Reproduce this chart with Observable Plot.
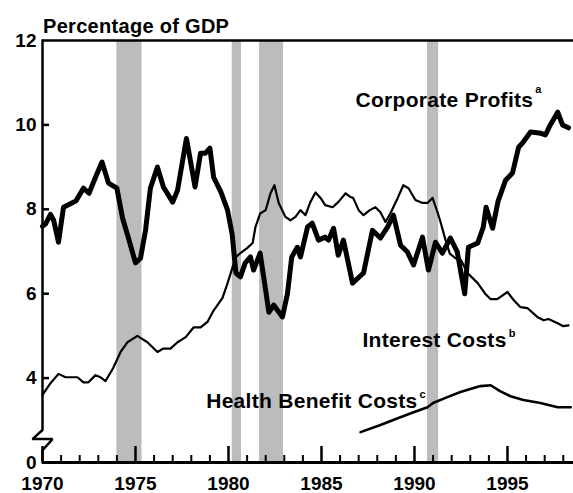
<!DOCTYPE html>
<html>
<head>
<meta charset="utf-8">
<script src="https://cdn.jsdelivr.net/npm/d3@7"></script>
<script src="https://cdn.jsdelivr.net/npm/@observablehq/plot@0.6"></script>
<style>
  body { margin: 0; background: #fff; }
  #wrap { position: relative; width: 573px; height: 493px; overflow: hidden; background: #fff; }
  #title { position: absolute; z-index: 2; left: 43px; top: 15px; line-height: 20px; font: bold 20px "Liberation Sans", Arial, sans-serif; color: #000; letter-spacing: 0.3px; }
  #chart { position: absolute; z-index: 1; left: 0; top: 30px; }
</style>
</head>
<body>
<div id="wrap">
  <div id="chart"></div>
  <div id="title">Percentage of GDP</div>
</div>
<script>
// ---- Data ----
const corpYears = [1970.0,1970.16,1970.43,1970.6,1970.86,1971.13,1971.5,1971.8,1972.2,1972.5,1972.85,1973.2,1973.55,1974.0,1974.3,1974.6,1975.0,1975.27,1975.54,1975.8,1976.18,1976.5,1977.0,1977.26,1977.74,1978.2,1978.5,1978.76,1979.0,1979.2,1979.6,1979.95,1980.2,1980.4,1980.64,1980.9,1981.18,1981.35,1981.7,1982.0,1982.17,1982.43,1982.9,1983.17,1983.4,1983.7,1983.87,1984.25,1984.5,1984.84,1985.2,1985.38,1985.65,1985.9,1986.18,1986.67,1987.26,1987.74,1988.17,1988.55,1988.87,1989.25,1989.62,1989.95,1990.43,1990.75,1991.13,1991.5,1991.93,1992.3,1992.7,1992.9,1993.4,1993.7,1993.85,1994.2,1994.5,1994.9,1995.27,1995.6,1995.86,1996.24,1996.8,1997.04,1997.3,1997.7,1997.96,1998.28];
const corpValues = [7.6,7.65,7.88,7.74,7.22,8.05,8.13,8.2,8.5,8.38,8.76,9.12,8.62,8.5,7.8,7.35,6.73,6.84,7.5,8.5,9.0,8.53,8.17,8.45,9.68,8.53,9.33,9.33,9.45,8.76,8.4,7.98,7.4,6.49,6.4,6.73,6.87,6.56,6.96,6.08,5.56,5.73,5.45,6.0,6.87,7.1,6.87,7.58,7.67,7.27,7.34,7.27,7.55,6.91,7.27,6.25,6.49,7.5,7.32,7.58,7.86,7.15,6.99,6.68,7.34,6.56,7.22,6.96,7.32,6.99,6.0,7.1,7.2,7.58,8.05,7.55,8.2,8.69,8.86,9.47,9.6,9.83,9.8,9.76,10.0,10.3,10.0,9.93];

const interestYears = [1970.0,1970.43,1970.86,1971.24,1971.88,1972.2,1972.47,1972.85,1973.12,1973.39,1973.8,1974.2,1974.57,1975.1,1975.64,1976.18,1976.5,1976.88,1977.26,1977.7,1978.12,1978.5,1978.87,1979.2,1979.68,1979.95,1980.2,1980.4,1980.64,1981.0,1981.3,1981.45,1981.7,1982.0,1982.26,1982.47,1982.7,1983.06,1983.33,1983.6,1983.87,1984.14,1984.4,1984.68,1984.95,1985.2,1985.6,1985.9,1986.3,1986.56,1986.7,1987.0,1987.26,1987.6,1987.9,1988.17,1988.44,1988.7,1989.1,1989.4,1989.68,1990.05,1990.43,1990.7,1990.97,1991.24,1991.4,1991.67,1991.9,1992.2,1992.5,1992.85,1993.4,1993.8,1994.1,1994.45,1995.0,1995.33,1995.7,1996.07,1996.6,1996.95,1997.2,1997.7,1998.0,1998.28];
const interestValues = [3.6,3.88,4.1,4.02,4.02,3.9,3.9,4.07,4.02,3.93,4.24,4.62,4.85,5.0,4.85,4.62,4.7,4.7,4.85,4.97,5.2,5.2,5.33,5.6,5.9,6.25,6.6,6.87,6.96,7.08,7.2,7.58,7.9,7.98,8.38,8.57,8.15,7.82,7.74,7.82,7.98,7.86,8.17,8.4,8.27,8.1,8.05,8.17,8.38,8.29,8.27,7.98,7.86,7.98,8.05,7.93,7.7,7.9,8.27,8.57,8.5,8.22,8.15,8.15,8.27,7.93,7.7,7.27,6.95,6.84,6.8,6.49,6.25,6.0,5.87,5.87,6.04,5.85,5.68,5.66,5.45,5.37,5.4,5.3,5.23,5.25];

const healthYears = [1987.1,1988.17,1989.1,1989.95,1990.7,1991.0,1991.77,1992.47,1993.0,1993.55,1994.1,1994.6,1995.16,1995.86,1996.77,1997.7,1998.4];
const healthValues = [2.72,2.89,3.05,3.19,3.31,3.41,3.55,3.67,3.74,3.81,3.83,3.69,3.57,3.48,3.41,3.31,3.31];

const recessionStart = [1974.0, 1980.2, 1981.67, 1990.7];
const recessionEnd   = [1975.35, 1980.7, 1982.96, 1991.3];

const yTickValues = [2, 4, 6, 8, 10, 12];
const yTickLabels = ["0", "4", "6", "8", "10", "12"];
const majorYears = [1970, 1975, 1980, 1985, 1990, 1995];
const minorYears = [1971,1972,1973,1974,1976,1977,1978,1979,1981,1982,1983,1984,1986,1987,1988,1989,1991,1992,1993,1994,1996,1997,1998];

// left axis with a break (data units)
const axisBreakX = [1970, 1970, 1969.46, 1970.54, 1970, 1970];
const axisBreakY = [12, 2.77, 2.555, 2.555, 2.29, 2];

const labelText = ["Corporate Profits", "Interest Costs", "Health Benefit Costs"];
const labelX = [1986.83, 1987.2, 1978.8];
const labelY = [10.42, 4.73, 3.29];
const labelSup = ["a", "b", "c"];

// ---- Tables ----
const corp = corpYears.map((x, i) => ({x, y: corpValues[i]}));
const interest = interestYears.map((x, i) => ({x, y: interestValues[i]}));
const health = healthYears.map((x, i) => ({x, y: healthValues[i]}));
const recessions = recessionStart.map((s, i) => ({start: s, end: recessionEnd[i]}));
const axisBreak = axisBreakX.map((x, i) => ({x, y: axisBreakY[i]}));
const labels = labelText.map((t, i) => ({t, x: labelX[i], y: labelY[i]}));

const W = 573, H = 463, mT = 10, mB = 31, mL = 42, mR = 0;
const frameW = W - mL - mR, frameH = H - mT - mB;

const chart = Plot.plot({
  width: W, height: H,
  marginTop: mT, marginBottom: mB, marginLeft: mL, marginRight: mR,
  style: {fontFamily: '"Liberation Sans", Arial, sans-serif', fontSize: "19px", fontWeight: "bold", color: "#000", background: "transparent", overflow: "visible"},
  x: {domain: [1970, 1998.55], axis: null},
  y: {domain: [2, 12], axis: null},
  marks: [
    Plot.rect(recessions, {x1: "start", x2: "end", fill: "#bcbcbc"}),
    Plot.ruleY([12], {stroke: "#000", strokeWidth: 2.5}),
    Plot.ruleY([2], {stroke: "#000", strokeWidth: 3}),
    Plot.line(axisBreak, {x: "x", y: "y", stroke: "#000", strokeWidth: 2.5, strokeLinejoin: "miter", curve: "linear"}),
    Plot.ruleX(minorYears, {x: d => d, insetTop: frameH - 7, stroke: "#000", strokeWidth: 2}),
    Plot.ruleX(majorYears, {x: d => d, insetTop: frameH - 16, stroke: "#000", strokeWidth: 2.5}),
    Plot.ruleY([4, 6, 8, 10], {y: d => d, insetRight: frameW - 7, stroke: "#000", strokeWidth: 2.5}),
    Plot.axisY({ticks: yTickValues, tickSize: 0, tickPadding: 6, label: null, tickFormat: d => yTickLabels[yTickValues.indexOf(d)], fontSize: 19}),
    Plot.axisX({ticks: majorYears, tickSize: 0, tickPadding: 14, label: null, tickFormat: d => String(d), fontSize: 19}),
    Plot.line(interest, {x: "x", y: "y", stroke: "#000", strokeWidth: 2.2}),
    Plot.line(health, {x: "x", y: "y", stroke: "#000", strokeWidth: 2.6}),
    Plot.line(corp, {x: "x", y: "y", stroke: "#000", strokeWidth: 5, strokeLinejoin: "round"}),
    Plot.text(labels, {x: "x", y: "y", text: "t", textAnchor: "start", lineAnchor: "bottom", fontSize: 21, fontWeight: "bold", fill: "#000"})
  ]
});

// add superscript footnote markers to the series labels
const supDy = [-14, -10, -10];
d3.select(chart).selectAll('g[aria-label="text"] text').each(function(_, i) {
  d3.select(this).style("letter-spacing", "0.3px");
  d3.select(this).append("tspan").attr("dx", 2).attr("dy", supDy[i]).attr("font-size", 11).text(labelSup[i]);
});

document.getElementById("chart").appendChild(chart);
</script>
</body>
</html>
